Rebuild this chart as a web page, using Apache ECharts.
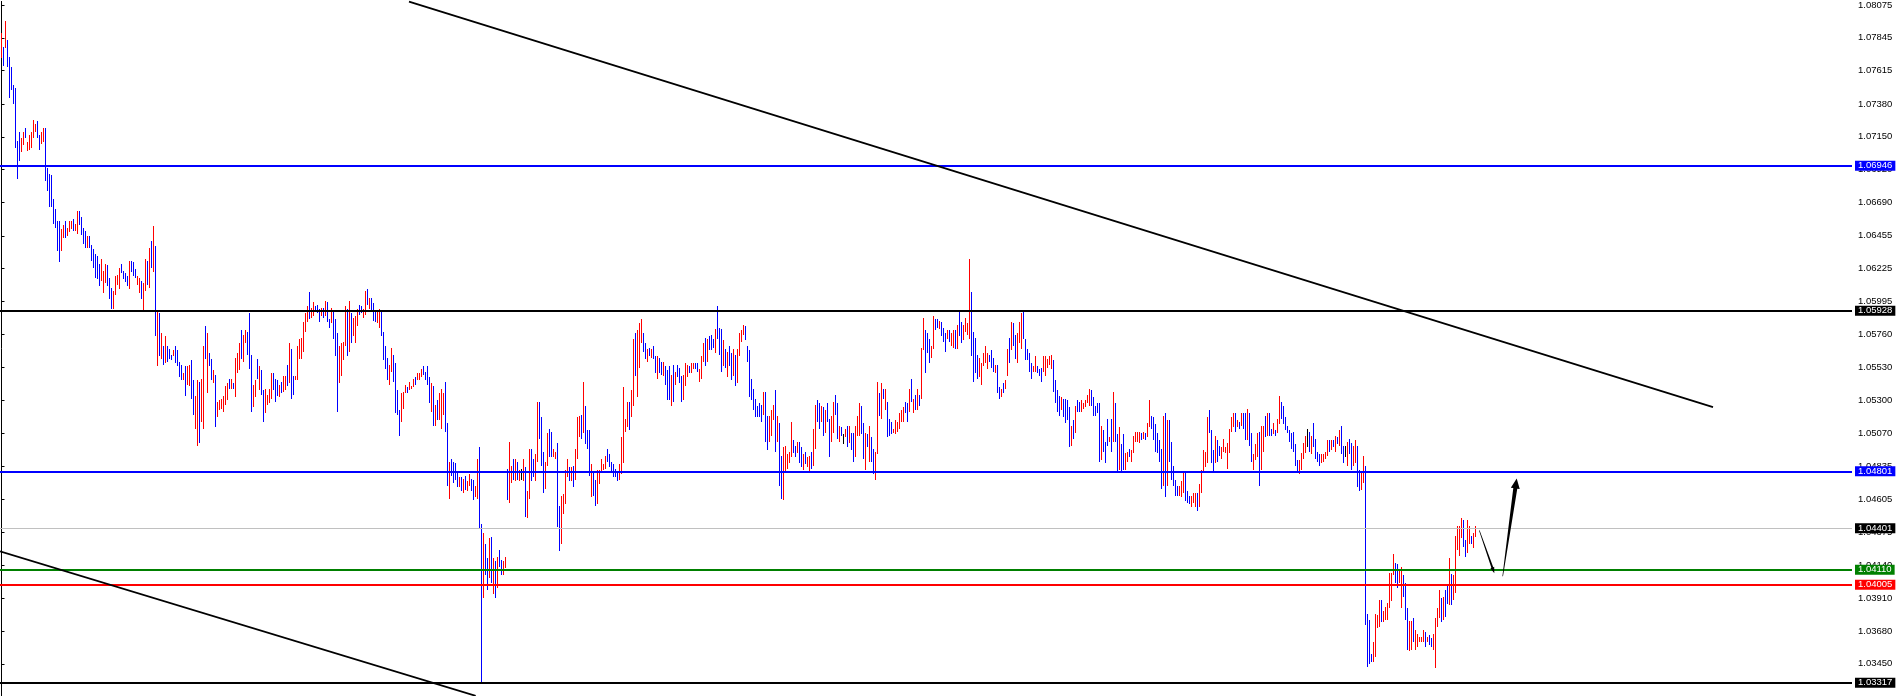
<!DOCTYPE html>
<html>
<head>
<meta charset="utf-8">
<script src="https://cdn.jsdelivr.net/npm/echarts@6/dist/echarts.min.js"></script>
<style>
html,body{margin:0;padding:0;background:#fff;}
#chart{width:1897px;height:696px;}
</style>
</head>
<body>
<div id="chart"></div>
<script>
// ---------------- DATA ----------------
// bar highs (one per bar, left to right)
const barHigh = [
1.0788,1.0778,1.0796,1.0783,1.0771,1.0764,1.0751,1.0749,1.0712,1.0718,
1.0714,1.0718,1.0721,1.0711,1.0716,1.0718,1.0727,1.0724,1.0726,1.0716,
1.0718,1.0721,1.0721,1.0693,1.0689,1.0688,1.0671,1.0664,1.0656,1.0656,
1.0650,1.0653,1.0656,1.0651,1.0656,1.0656,1.0657,1.0654,1.0663,1.0663,
1.0659,1.0651,1.0649,1.0645,1.0645,1.0639,1.0636,1.0633,1.0631,1.0626,
1.0629,1.0621,1.0626,1.0625,1.0616,1.0609,1.0607,1.0617,1.0618,1.0623,
1.0626,1.0621,1.0619,1.0617,1.0628,1.0628,1.0627,1.0622,1.0617,1.0616,
1.0614,1.0612,1.0629,1.0628,1.0637,1.0642,1.0652,1.0638,1.0593,1.0591,
1.0577,1.0568,1.0575,1.0568,1.0566,1.0562,1.0565,1.0568,1.0565,1.0557,
1.0555,1.0549,1.0554,1.0554,1.0555,1.0558,1.0544,1.0533,1.0544,1.0543,
1.0545,1.0568,1.0582,1.0577,1.0563,
1.0559,1.0551,1.0548,1.0529,1.0530,1.0531,1.0533,1.0540,1.0542,1.0545,
1.0545,1.0542,1.0560,1.0563,1.0570,1.0579,1.0576,1.0579,1.0578,1.0591,
1.0562,1.0541,1.0544,1.0559,1.0554,1.0551,1.0537,1.0538,1.0534,1.0538,
1.0549,1.0549,1.0545,1.0544,1.0541,1.0543,1.0547,1.0547,1.0555,1.0570,
1.0566,1.0547,1.0547,1.0568,1.0573,1.0574,1.0585,1.0591,1.0596,1.0606,
1.0595,1.0599,1.0596,1.0597,1.0594,1.0595,1.0595,1.0600,1.0599,1.0587,
1.0595,1.0592,1.0587,1.0577,1.0568,1.0570,1.0571,1.0596,1.0594,1.0600,
1.0591,1.0588,1.0589,1.0594,1.0597,1.0596,1.0594,1.0607,1.0608,1.0602,
1.0602,1.0598,1.0593,1.0593,1.0594,1.0593,1.0578,1.0568,1.0560,1.0555,
1.0567,1.0562,1.0556,1.0537,1.0523,1.0535,1.0536,1.0541,1.0539,1.0543,
1.0540,1.0545,1.0546,1.0549,1.0549,
1.0552,1.0554,1.0550,1.0554,1.0546,1.0542,1.0540,1.0527,1.0530,1.0535,
1.0538,1.0535,1.0543,1.0514,1.0487,1.0489,1.0487,1.0486,1.0480,1.0476,
1.0476,1.0475,1.0477,1.0473,1.0478,1.0475,1.0474,1.0470,1.0489,1.0497,
1.0443,1.0437,1.0429,1.0419,1.0433,1.0434,1.0419,1.0417,1.0420,1.0425,
1.0418,1.0417,1.0420,1.0482,1.0501,1.0484,1.0489,1.0489,1.0487,1.0481,
1.0482,1.0489,1.0483,1.0466,1.0496,1.0496,1.0489,1.0492,1.0529,1.0529,
1.0518,1.0494,1.0487,1.0507,1.0510,1.0508,1.0496,1.0494,1.0500,1.0456,
1.0463,1.0464,1.0481,1.0489,1.0483,1.0483,1.0484,1.0496,1.0518,1.0519,
1.0520,1.0543,1.0526,1.0509,1.0509,1.0485,1.0480,1.0474,1.0481,1.0481,
1.0489,1.0485,1.0491,1.0496,1.0492,1.0487,1.0485,1.0482,1.0479,1.0485,
1.0504,1.0539,1.0517,1.0529,1.0529,
1.0537,1.0573,1.0577,1.0579,1.0584,1.0587,1.0577,1.0570,1.0566,1.0567,
1.0566,1.0568,1.0561,1.0561,1.0560,1.0557,1.0557,1.0554,1.0551,1.0554,
1.0548,1.0555,1.0550,1.0555,1.0553,1.0547,1.0548,1.0556,1.0555,1.0554,
1.0556,1.0556,1.0556,1.0556,1.0552,1.0561,1.0570,1.0574,1.0573,1.0575,
1.0576,1.0573,1.0580,1.0596,1.0581,1.0580,1.0572,1.0566,1.0564,1.0568,
1.0563,1.0566,1.0562,1.0566,1.0577,1.0579,1.0583,1.0582,1.0568,1.0565,
1.0545,1.0538,1.0531,1.0526,1.0528,1.0527,1.0536,1.0536,1.0519,1.0519,
1.0523,1.0527,1.0537,1.0519,1.0514,1.0491,1.0497,1.0498,1.0492,1.0494,
1.0515,1.0502,1.0498,1.0501,1.0501,1.0497,1.0492,1.0494,1.0490,1.0491,
1.0494,1.0510,1.0527,1.0530,1.0528,1.0526,1.0525,1.0523,1.0528,1.0517,
1.0519,1.0529,1.0534,1.0528,1.0512,
1.0511,1.0506,1.0510,1.0512,1.0512,1.0507,1.0507,1.0512,1.0519,1.0528,
1.0526,1.0514,1.0507,1.0506,1.0512,1.0504,1.0496,1.0494,1.0543,1.0535,
1.0542,1.0538,1.0538,1.0529,1.0517,1.0515,1.0510,1.0516,1.0515,1.0521,
1.0523,1.0525,1.0529,1.0528,1.0538,1.0545,1.0531,1.0534,1.0538,1.0534,
1.0567,1.0588,1.0579,1.0577,1.0573,1.0568,1.0589,1.0587,1.0587,1.0586,
1.0585,1.0581,1.0577,1.0579,1.0579,1.0577,1.0579,1.0579,1.0583,1.0593,
1.0585,1.0583,1.0588,1.0584,1.0629,1.0606,1.0578,1.0574,1.0562,1.0560,
1.0556,1.0563,1.0568,1.0563,1.0562,1.0565,1.0560,1.0555,1.0555,1.0539,
1.0538,1.0542,1.0544,1.0566,1.0574,1.0585,1.0584,1.0576,1.0577,1.0585,
1.0591,1.0593,1.0573,1.0566,1.0563,1.0556,1.0554,1.0561,1.0554,1.0552,
1.0553,1.0561,1.0561,1.0559,1.0561,
1.0562,1.0558,1.0544,1.0537,1.0533,1.0532,1.0531,1.0531,1.0530,1.0525,
1.0512,1.0516,1.0526,1.0530,1.0529,1.0530,1.0528,1.0530,1.0534,1.0538,
1.0537,1.0532,1.0526,1.0528,1.0528,1.0512,1.0509,1.0501,1.0517,1.0504,
1.0517,1.0536,1.0528,1.0506,1.0511,1.0499,1.0506,1.0493,1.0494,1.0496,
1.0495,1.0505,1.0508,1.0508,1.0508,1.0507,1.0508,1.0507,1.0514,1.0530,
1.0519,1.0518,1.0513,1.0507,1.0502,1.0496,1.0519,1.0521,1.0516,1.0516,
1.0501,1.0484,1.0474,1.0470,1.0470,1.0473,1.0480,1.0480,1.0466,1.0463,
1.0463,1.0465,1.0465,1.0465,1.0471,1.0481,1.0495,1.0494,1.0518,1.0523,
1.0509,1.0495,1.0505,1.0502,1.0498,1.0497,1.0503,1.0497,1.0500,1.0510,
1.0518,1.0521,1.0521,1.0516,1.0515,1.0521,1.0521,1.0521,1.0524,1.0521,
1.0507,1.0492,1.0499,1.0507,1.0508,
1.0512,1.0512,1.0519,1.0521,1.0521,1.0510,1.0514,1.0509,1.0517,1.0533,
1.0529,1.0526,1.0518,1.0512,1.0509,1.0507,1.0508,1.0499,1.0488,1.0488,
1.0493,1.0500,1.0505,1.0510,1.0508,1.0505,1.0514,1.0503,1.0494,1.0492,
1.0492,1.0492,1.0494,1.0502,1.0502,1.0502,1.0502,1.0505,1.0504,1.0509,
1.0512,1.0498,1.0498,1.0501,1.0503,1.0500,1.0498,1.0502,1.0498,1.0481,
1.0480,1.0491,1.0484,1.0380,1.0376,1.0352,1.0360,1.0380,1.0379,1.0390,
1.0390,1.0382,1.0385,1.0388,1.0409,1.0409,1.0422,1.0416,1.0415,1.0411,
1.0413,1.0407,1.0402,1.0384,1.0375,1.0375,1.0377,1.0369,1.0366,1.0364,
1.0364,1.0369,1.0367,1.0364,1.0365,1.0363,1.0366,1.0377,1.0384,1.0397,
1.0391,1.0392,1.0397,1.0400,1.0419,1.0408,1.0407,1.0435,1.0442,1.0442,
1.0447,1.0446,1.0432,1.0446,1.0442,1.0435,1.0437,1.0442
];
// bar lows
const barLow = [
1.0770,1.0765,1.0777,1.0764,1.0742,1.0748,1.0738,1.0707,1.0685,1.0698,
1.0704,1.0709,1.0714,1.0705,1.0706,1.0707,1.0714,1.0718,1.0714,1.0706,
1.0710,1.0711,1.0684,1.0677,1.0666,1.0666,1.0654,1.0651,1.0635,1.0627,
1.0635,1.0644,1.0644,1.0645,1.0648,1.0650,1.0649,1.0649,1.0647,1.0653,
1.0646,1.0640,1.0637,1.0637,1.0637,1.0628,1.0623,1.0616,1.0615,1.0610,
1.0614,1.0605,1.0612,1.0610,1.0601,1.0594,1.0594,1.0604,1.0611,1.0608,
1.0619,1.0615,1.0613,1.0610,1.0608,1.0620,1.0617,1.0616,1.0611,1.0605,
1.0601,1.0592,1.0607,1.0611,1.0609,1.0623,1.0620,1.0575,1.0554,1.0561,
1.0559,1.0555,1.0556,1.0557,1.0559,1.0558,1.0561,1.0556,1.0554,1.0546,
1.0544,1.0544,1.0533,1.0541,1.0540,1.0531,1.0520,1.0510,1.0498,1.0500,
1.0515,1.0510,1.0559,1.0535,1.0554,
1.0544,1.0542,1.0511,1.0518,1.0523,1.0524,1.0522,1.0527,1.0530,1.0538,
1.0538,1.0538,1.0532,1.0549,1.0551,1.0559,1.0557,1.0570,1.0562,1.0552,
1.0522,1.0525,1.0532,1.0545,1.0537,1.0534,1.0515,1.0521,1.0527,1.0528,
1.0531,1.0537,1.0529,1.0533,1.0532,1.0535,1.0536,1.0537,1.0540,1.0542,
1.0531,1.0534,1.0544,1.0544,1.0559,1.0559,1.0564,1.0578,1.0585,1.0587,
1.0588,1.0589,1.0592,1.0591,1.0585,1.0589,1.0588,1.0589,1.0585,1.0581,
1.0584,1.0573,1.0561,1.0522,1.0542,1.0547,1.0558,1.0568,1.0561,1.0564,
1.0570,1.0575,1.0570,1.0582,1.0590,1.0591,1.0588,1.0590,1.0597,1.0594,
1.0593,1.0586,1.0585,1.0584,1.0581,1.0575,1.0558,1.0552,1.0544,1.0541,
1.0550,1.0543,1.0521,1.0520,1.0505,1.0515,1.0524,1.0535,1.0535,1.0537,
1.0538,1.0539,1.0541,1.0544,1.0544,
1.0546,1.0548,1.0544,1.0541,1.0528,1.0522,1.0512,1.0512,1.0516,1.0516,
1.0510,1.0520,1.0508,1.0470,1.0461,1.0477,1.0472,1.0474,1.0469,1.0469,
1.0466,1.0465,1.0467,1.0466,1.0470,1.0466,1.0460,1.0462,1.0461,1.0440,
1.0332,1.0391,1.0407,1.0397,1.0405,1.0402,1.0394,1.0391,1.0398,1.0413,
1.0407,1.0407,1.0412,1.0460,1.0458,1.0472,1.0474,1.0473,1.0474,1.0473,
1.0474,1.0473,1.0448,1.0447,1.0461,1.0473,1.0476,1.0473,1.0487,1.0503,
1.0484,1.0465,1.0468,1.0484,1.0490,1.0490,1.0490,1.0489,1.0441,1.0424,
1.0429,1.0450,1.0457,1.0476,1.0473,1.0473,1.0469,1.0474,1.0489,1.0504,
1.0503,1.0507,1.0499,1.0496,1.0477,1.0462,1.0463,1.0456,1.0457,1.0471,
1.0479,1.0481,1.0482,1.0487,1.0483,1.0480,1.0476,1.0476,1.0473,1.0474,
1.0478,1.0486,1.0508,1.0511,1.0509,
1.0518,1.0526,1.0547,1.0532,1.0553,1.0570,1.0564,1.0559,1.0557,1.0561,
1.0560,1.0559,1.0549,1.0545,1.0549,1.0548,1.0547,1.0541,1.0530,1.0530,
1.0526,1.0529,1.0541,1.0546,1.0542,1.0529,1.0530,1.0540,1.0546,1.0549,
1.0549,1.0552,1.0552,1.0550,1.0543,1.0545,1.0557,1.0554,1.0557,1.0565,
1.0565,1.0567,1.0563,1.0573,1.0562,1.0550,1.0554,1.0553,1.0546,1.0554,
1.0544,1.0547,1.0540,1.0542,1.0561,1.0571,1.0576,1.0572,1.0557,1.0532,
1.0530,1.0523,1.0518,1.0518,1.0518,1.0515,1.0520,1.0501,1.0495,1.0501,
1.0505,1.0516,1.0494,1.0501,1.0470,1.0461,1.0460,1.0479,1.0482,1.0486,
1.0490,1.0493,1.0490,1.0493,1.0486,1.0483,1.0481,1.0485,1.0483,1.0479,
1.0482,1.0484,1.0496,1.0515,1.0510,1.0515,1.0505,1.0507,1.0515,1.0490,
1.0501,1.0507,1.0520,1.0503,1.0501,
1.0505,1.0499,1.0504,1.0497,1.0500,1.0495,1.0487,1.0490,1.0505,1.0505,
1.0506,1.0489,1.0481,1.0497,1.0487,1.0487,1.0478,1.0474,1.0492,1.0519,
1.0517,1.0531,1.0523,1.0504,1.0505,1.0506,1.0507,1.0506,1.0508,1.0510,
1.0515,1.0515,1.0521,1.0515,1.0522,1.0529,1.0521,1.0523,1.0523,1.0526,
1.0531,1.0565,1.0549,1.0563,1.0556,1.0560,1.0566,1.0579,1.0581,1.0580,
1.0575,1.0571,1.0564,1.0573,1.0571,1.0568,1.0567,1.0566,1.0566,1.0575,
1.0570,1.0572,1.0578,1.0576,1.0573,1.0561,1.0543,1.0549,1.0545,1.0546,
1.0541,1.0554,1.0556,1.0552,1.0557,1.0553,1.0550,1.0549,1.0535,1.0531,
1.0532,1.0535,1.0538,1.0547,1.0556,1.0565,1.0568,1.0559,1.0556,1.0570,
1.0566,1.0573,1.0558,1.0558,1.0550,1.0545,1.0550,1.0550,1.0549,1.0547,
1.0543,1.0550,1.0547,1.0553,1.0555,
1.0552,1.0536,1.0528,1.0522,1.0519,1.0523,1.0518,1.0514,1.0516,1.0497,
1.0498,1.0503,1.0507,1.0522,1.0522,1.0522,1.0524,1.0525,1.0528,1.0526,
1.0526,1.0519,1.0519,1.0521,1.0487,1.0488,1.0494,1.0486,1.0498,1.0501,
1.0494,1.0501,1.0501,1.0479,1.0481,1.0480,1.0481,1.0481,1.0487,1.0490,
1.0487,1.0493,1.0501,1.0501,1.0500,1.0502,1.0503,1.0502,1.0504,1.0511,
1.0510,1.0502,1.0494,1.0493,1.0487,1.0468,1.0470,1.0462,1.0470,1.0487,
1.0474,1.0470,1.0463,1.0463,1.0463,1.0462,1.0465,1.0459,1.0458,1.0457,
1.0455,1.0458,1.0455,1.0452,1.0455,1.0465,1.0480,1.0483,1.0486,1.0507,
1.0486,1.0480,1.0486,1.0487,1.0491,1.0489,1.0494,1.0493,1.0482,1.0493,
1.0508,1.0511,1.0508,1.0511,1.0510,1.0512,1.0510,1.0502,1.0502,1.0498,
1.0487,1.0481,1.0488,1.0490,1.0470,
1.0481,1.0494,1.0504,1.0505,1.0505,1.0505,1.0506,1.0505,1.0507,1.0513,
1.0517,1.0513,1.0509,1.0507,1.0501,1.0496,1.0494,1.0484,1.0479,1.0478,
1.0481,1.0489,1.0493,1.0497,1.0494,1.0492,1.0497,1.0489,1.0487,1.0484,
1.0486,1.0487,1.0489,1.0491,1.0494,1.0495,1.0497,1.0494,1.0499,1.0498,
1.0492,1.0486,1.0490,1.0484,1.0492,1.0481,1.0484,1.0486,1.0469,1.0466,
1.0467,1.0472,1.0372,1.0343,1.0345,1.0346,1.0346,1.0350,1.0370,1.0371,
1.0374,1.0374,1.0376,1.0376,1.0384,1.0389,1.0407,1.0402,1.0398,1.0402,
1.0384,1.0392,1.0376,1.0355,1.0354,1.0355,1.0360,1.0355,1.0357,1.0360,
1.0360,1.0360,1.0357,1.0360,1.0358,1.0357,1.0355,1.0342,1.0371,1.0377,
1.0374,1.0376,1.0378,1.0387,1.0386,1.0386,1.0390,1.0395,1.0425,1.0421,
1.0433,1.0427,1.0420,1.0423,1.0429,1.0429,1.0426,1.0434
];
// bar direction: R = up (red), B = down (blue), K = unchanged (black)
const barDir = (
"RBRBBBBBBB"+"RRBRRRRRBB"+"RRBBBBBBBB"+"RRBRRRBRRB"+"BBBRBBBBBB"+"RRRBBBRRRR"+"BBBBRBBBRR"+"BRRBRBRBRB"+"RBRBBBRBBB"+"BRBRRBBRRB"+"RRBRB"+
"BRBRRRRRRB"+"RBRRRBRRBB"+"BRRBRBBRRR"+"RBBBRBRRBR"+"BBRRRRRRRB"+"RRBBBRBRBB"+"RBBBRRRRBR"+"BRRRBBRRBR"+"BBBRRBBBBR"+"RBBBBRRRBR"+"RRBRR"+
"RBBBBRBRBR"+"RRBBRBBBBR"+"BRBRRBBRRB"+"BRBBRBRBRB"+"BRRBRRBRBR"+"KRBRRBBRRB"+"BBRRBBRRBB"+"RRRRBRBRRR"+"BRBBBRBBRR"+"RRRBBBBBBR"+"RRRRB"+
"RRBRRRBBRB"+"RBBRBBRBBB"+"RBRBBBRRRB"+"RRBBRRRBRB"+"BBRBBBRBRB"+"BRBRRRRBBB"+"BBBBBBRBBR"+"RRBRBBRRRR"+"RBBRBBRBRR"+"BRRBBRBRBB"+"RRBBR"+
"BKRBRBBRRR"+"BBRBRBBRRB"+"RBRBBBRRRR"+"RRBBRBRBRB"+"RRBBBRRBBR"+"BBBRBRRBRB"+"BRRRRBBBBR"+"RRRRBBBRBB"+"RBRRBRBBRR"+"RBBBBBRRBB"+"BRRRR"+
"RBBBBRBBBB"+"RBRBBRRRRR"+"BBBBBRBBBR"+"BRBBRBBRRB"+"RRRRRBRBRR"+"BBBBBBRBRB"+"BBBBRRRBBB"+"RRRBRRRRRB"+"BBRBBRRRRR"+"RRBRBRBBRB"+"BRRRB"+
"RRBRBBRBRR"+"BBBBBBBBBR"+"RRRKBRBBBB"+"RRRRBRBRBR"+"BBKRBBRRBB"+"RRBBBBRRRR"+"BRRRRRRBBR"+"RBBBRRBRRR"+"RRBRBBRRRR"+"BRBBRBRRRR"+"RBBRRBRR"
).split('');

// horizontal price levels
const levelValues = [1.06946, 1.05928, 1.04801, 1.04401, 1.04110, 1.04005, 1.03317];
// trend lines: [barIndex1, price1, barIndex2, price2]
const trendLines = [
  [203.75, 1.08099, 855.75, 1.05252],
  [-0.75, 1.04240, 237.1, 1.03225]
];
// projected path arrows: [barIndex1, price1, barIndex2, price2]
const arrowSegs = [
  [738.9, 1.04387, 746.4, 1.04086],
  [750.6, 1.04065, 757.6, 1.04751]
];
// price scale tick labels
const tickValues = [1.08075,1.07845,1.07615,1.07380,1.07150,1.06920,1.06690,1.06455,1.06225,1.05995,
  1.05760,1.05530,1.05300,1.05070,1.04835,1.04605,1.04375,1.04140,1.03910,1.03680,1.03450];

// ---------------- STYLE ----------------
const UP = '#ff0000', DOWN = '#0000ff', FLAT = '#000000';
const levelStyle = [
  {c:'#0000ff', w:2, bg:'#0000ff'},
  {c:'#000000', w:2, bg:'#000000'},
  {c:'#0000ff', w:2, bg:'#0000ff'},
  {c:'#c0c0c0', w:1, bg:'#000000'},
  {c:'#008000', w:2, bg:'#008000'},
  {c:'#ff0000', w:2, bg:'#ff0000'},
  {c:'#000000', w:2, bg:'#000000'}
];
const arrowStyle = [
  {w0:0.6, w1:2.0, hw:4, hl:6},
  {w0:0.6, w1:4.0, hw:9, hl:10}
];
const FONT = 'Liberation Sans';
const PX_PER_PRICE = 1 / 0.00007006;   // vertical scale of the reference
const PLOT_H = 696;

const dirCode = {R:1, B:-1, K:0};
const bars = barHigh.map((h, i) => [i, barLow[i], h, dirCode[barDir[i]] ?? 0]);

function renderBar(params, api) {
  const x = api.value(0);
  const top = api.coord([x, api.value(2)]);
  const bot = api.coord([x, api.value(1)]);
  const d = api.value(3);
  const col = d > 0 ? UP : (d < 0 ? DOWN : FLAT);
  const y0 = Math.round(top[1]);
  const y1 = Math.round(bot[1]);
  return {
    type: 'rect',
    shape: {x: Math.floor(top[0]), y: y0, width: 1, height: Math.max(1, y1 - y0)},
    style: {fill: col}
  };
}

function renderArrow(params, api) {
  const s = arrowStyle[params.dataIndex];
  const p0 = api.coord([api.value(0), api.value(1)]);
  const p1 = api.coord([api.value(2), api.value(3)]);
  const dx = p1[0] - p0[0], dy = p1[1] - p0[1];
  const L = Math.hypot(dx, dy);
  const ux = dx / L, uy = dy / L, nx = -uy, ny = ux;
  const bx = p1[0] - ux * s.hl, by = p1[1] - uy * s.hl;
  const pts = [
    [p0[0] + nx * s.w0 / 2, p0[1] + ny * s.w0 / 2],
    [bx + nx * s.w1 / 2, by + ny * s.w1 / 2],
    [bx + nx * s.hw / 2, by + ny * s.hw / 2],
    [p1[0], p1[1]],
    [bx - nx * s.hw / 2, by - ny * s.hw / 2],
    [bx - nx * s.w1 / 2, by - ny * s.w1 / 2],
    [p0[0] - nx * s.w0 / 2, p0[1] - ny * s.w0 / 2]
  ];
  return {type: 'polygon', shape: {points: pts}, style: {fill: '#000'}};
}

const markData = levelValues.map((v, k) => ({
  yAxis: v,
  lineStyle: {color: levelStyle[k].c, width: levelStyle[k].w, type: 'solid'},
  label: {
    show: true, position: 'end', distance: 3,
    formatter: v.toFixed(5),
    color: '#ffffff', backgroundColor: levelStyle[k].bg,
    fontFamily: FONT, fontSize: 9.5, lineHeight: 10, padding: [0, 3, 0, 3]
  }
}));
trendLines.forEach(t => {
  markData.push([
    {coord: [t[0], t[1]], lineStyle: {color: '#000', width: 1.8, type: 'solid'}, label: {show: false}},
    {coord: [t[2], t[3]]}
  ]);
});

const Y_MAX = 1.0810;
const Y_MIN = Y_MAX - PLOT_H / PX_PER_PRICE;

const chart = echarts.init(document.getElementById('chart'), null, {renderer: 'canvas'});
chart.setOption({
  animation: false,
  backgroundColor: '#ffffff',
  grid: {left: 0, top: 0, width: 1852, height: PLOT_H, containLabel: false},
  xAxis: {
    type: 'value', min: -0.75, max: 925.25, show: false, splitLine: {show: false}
  },
  yAxis: {
    type: 'value', position: 'right',
    min: Y_MIN, max: Y_MAX,
    splitLine: {show: false},
    axisLine: {show: true, lineStyle: {color: '#000', width: 1}},
    axisTick: {show: true, customValues: tickValues, length: 3, lineStyle: {color: '#000'}},
    axisLabel: {
      show: true, customValues: tickValues, margin: 6,
      formatter: v => v.toFixed(5),
      color: '#000', fontFamily: FONT, fontSize: 9.5
    }
  },
  series: [
    {
      type: 'custom', name: 'bars', renderItem: renderBar, data: bars,
      encode: {x: 0, y: [1, 2]}, z: 2, silent: true
    },
    {
      type: 'line', name: 'levels', data: [], z: 5, silent: true, symbol: 'none',
      markLine: {silent: true, symbol: ['none', 'none'], animation: false, precision: 5, data: markData}
    },
    {
      type: 'custom', name: 'arrows', renderItem: renderArrow, data: arrowSegs,
      encode: {x: [0, 2], y: [1, 3]}, z: 6, silent: true
    }
  ]
});
</script>
</body>
</html>
